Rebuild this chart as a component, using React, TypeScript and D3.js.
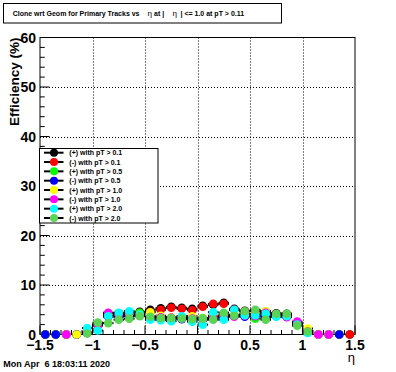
import React from "react";
import * as d3 from "d3";

// eta bin centres (bin width 0.1)
const etaBins = [
  -1.45, -1.35, -1.25, -1.15, -1.05, -0.95, -0.85, -0.75, -0.65, -0.55,
  -0.45, -0.35, -0.25, -0.15, -0.05, 0.05, 0.15, 0.25, 0.35, 0.45,
  0.55, 0.65, 0.75, 0.85, 0.95, 1.05, 1.15, 1.25, 1.35, 1.45,
];

// efficiency (%) per bin, null = no point drawn
const plusPt01 = [0, 0, 0, 0, 0.4, 2.0, 4.2, 4.3, 4.4, 4.6, 5.0, 5.3, 5.6, 5.4, 5.2, 5.8, 6.0, 6.4, 5.2, 4.8, 4.8, 4.6, 4.3, 4.2, 2.2, 0.6, 0, 0, 0, 0];
const minusPt01 = [0, 0, 0, 0, 0.3, 1.8, 3.9, 4.1, 4.2, 4.4, 4.6, 5.0, 5.4, 5.2, 4.9, 5.6, 6.2, 6.2, 5.0, 4.7, 4.7, 4.4, 4.1, 4.0, 2.1, 0.4, 0, 0, 0, 0];
const plusPt05 = [0, 0, 0, 0, 0.4, 2.1, 4.3, 3.9, 4.0, 4.4, 3.6, 3.6, 3.3, 3.5, 3.4, 3.3, 3.6, 3.9, 3.9, 4.0, 3.2, 3.4, 4.0, 4.0, 2.0, 0.4, 0, 0, 0, null];
const minusPt05 = [0, 0, 0, 0, 0.3, 1.9, 3.6, 3.6, 3.7, 3.9, 3.4, 3.3, 3.2, 3.1, 3.0, 3.0, 3.3, 3.6, 3.8, 3.6, 3.8, 3.7, 3.7, 3.6, 2.2, 0.5, 0, 0, 0, null];
const plusPt10 = [null, null, 0, 0, 0.4, 2.0, 4.1, 4.2, 4.3, 4.0, 4.5, 3.8, 3.5, 3.4, 3.7, 3.2, 3.8, 3.6, 4.0, 4.2, 4.1, 4.7, 3.9, 3.8, 2.3, 1.2, 0, 0, null, null];
const minusPt10 = [null, null, 0, null, 0.3, 1.9, 4.4, 4.1, 4.5, 3.8, 3.4, 3.5, 3.4, 3.3, 3.2, 3.1, 3.5, 3.4, 3.6, 3.8, 3.7, 4.4, 4.1, 3.5, 2.6, 0.6, 0, 0, null, null];
const plusPt20 = [null, null, null, null, 1.3, 0.8, 3.7, 4.4, 4.7, 4.0, 3.0, 2.9, 2.7, 3.7, 2.6, 2.0, 4.5, 3.0, 5.0, 3.9, 3.9, 4.2, 3.6, 3.7, 2.0, 0.3, null, null, null, null];
const minusPt20 = [null, null, null, null, 0.2, 2.4, 2.3, 3.0, 3.2, 3.7, 3.6, 3.3, 3.3, 3.2, 3.1, 3.2, 3.0, 4.4, 3.8, 4.7, 5.0, 3.0, 4.2, 4.2, 1.8, 0.6, null, null, null, null];

const seriesLabels = [
  "(+) with pT > 0.1", "(-) with pT > 0.1",
  "(+) with pT > 0.5", "(-) with pT > 0.5",
  "(+) with pT > 1.0", "(-) with pT > 1.0",
  "(+) with pT > 2.0", "(-) with pT > 2.0",
];
const seriesColors = ["#000000", "#ff0000", "#00ff00", "#0000ff", "#ffff00", "#ff00ff", "#00ffff", "#59d454"];
const seriesValues = [plusPt01, minusPt01, plusPt05, minusPt05, plusPt10, minusPt10, plusPt20, minusPt20];

const W = 396;
const H = 372;
const frame = { left: 40, right: 355, top: 37.5, bottom: 334.5 };
const FONT = "'Liberation Sans', Arial, Helvetica, sans-serif";

export default function App() {
  const x = d3.scaleLinear().domain([-1.5, 1.5]).range([frame.left, frame.right]);
  const y = d3.scaleLinear().domain([0, 60]).range([frame.bottom, frame.top]);
  const halfBin = (x(0.1) - x(0)) / 2;

  const xMajor = x.ticks(6);
  const xMinor = x.ticks(30);
  const yMajor = y.ticks(6);
  const yMinor = y.ticks(30);

  const legendTop = 148;
  const legendStep = 9.33;

  return (
    <svg
      width={W}
      height={H}
      style={{ position: "absolute", left: 0, top: 0, background: "#fff" }}
      fontFamily={FONT}
    >
      <rect x={0} y={0} width={W} height={H} fill="#fff" />

      {/* title box */}
      <rect x={3.5} y={3.5} width={278} height={19.5} fill="#fff" stroke="#000" strokeWidth={1} />
      <text y={15.5} fontSize={7} fontWeight="bold" fill="#000">
        <tspan x={12.7}>Clone wrt Geom for Primary Tracks vs</tspan>
        <tspan x={147.5} fontWeight="normal" fontSize={8}>η</tspan>
        <tspan x={154}>at |</tspan>
        <tspan x={172.5} fontWeight="normal" fontSize={8}>η</tspan>
        <tspan x={180.5}>| &lt;= 1.0 at pT &gt; 0.11</tspan>
      </text>

      {/* grid */}
      <g stroke="#000" strokeWidth={1} strokeDasharray="1,2">
        {xMajor.filter((t) => t > -1.5 && t < 1.5).map((t) => (
          <line key={"gx" + t} x1={Math.round(x(t)) + 0.5} x2={Math.round(x(t)) + 0.5} y1={frame.top} y2={frame.bottom} />
        ))}
        {yMajor.filter((t) => t > 0 && t < 60).map((t) => (
          <line key={"gy" + t} x1={frame.left} x2={frame.right} y1={Math.round(y(t)) + 0.5} y2={Math.round(y(t)) + 0.5} />
        ))}
      </g>

      {/* frame */}
      <rect
        x={frame.left}
        y={frame.top}
        width={frame.right - frame.left}
        height={frame.bottom - frame.top}
        fill="none"
        stroke="#000"
        strokeWidth={1}
      />

      {/* axis ticks */}
      <g stroke="#000" strokeWidth={1}>
        {xMinor.map((t) => {
          const major = xMajor.some((m) => Math.abs(m - t) < 1e-6);
          return (
            <line key={"tx" + t} x1={x(t)} x2={x(t)} y1={frame.bottom} y2={frame.bottom - (major ? 9 : 4.5)} />
          );
        })}
        {yMinor.map((t) => {
          const major = yMajor.some((m) => Math.abs(m - t) < 1e-6);
          return (
            <line key={"ty" + t} x1={frame.left} x2={frame.left + (major ? 9.5 : 4.75)} y1={y(t)} y2={y(t)} />
          );
        })}
      </g>

      {/* tick labels */}
      <g fontSize={14} fontWeight="bold" fill="#000">
        {xMajor.map((t) => (
          <text key={"lx" + t} x={x(t)} y={350} textAnchor="middle">
            {t < 0 ? "\u2212" + Math.abs(t) : String(t)}
          </text>
        ))}
        {yMajor.map((t) => (
          <text key={"ly" + t} x={36} y={y(t) + 5} textAnchor="end">
            {t}
          </text>
        ))}
      </g>

      {/* axis titles */}
      <text
        transform={`translate(18.5,${frame.top}) rotate(-90)`}
        textAnchor="end"
        fontSize={13.5}
        fontWeight="bold"
        fill="#000"
      >
        Efficiency (%)
      </text>
      <text x={frame.right} y={362} textAnchor="end" fontSize={13} fill="#000">
        η
      </text>

      {/* data series */}
      {seriesValues.map((vals, si) => (
        <g key={"s" + si}>
          {vals.map((v, bi) =>
            v !== null && v > 0 ? (
              <line
                key={"e" + bi}
                x1={x(etaBins[bi]) - halfBin}
                x2={x(etaBins[bi]) + halfBin}
                y1={y(v)}
                y2={y(v)}
                stroke="#000"
                strokeWidth={2}
              />
            ) : null
          )}
          {vals.map((v, bi) =>
            v !== null ? (
              <circle key={"m" + bi} cx={x(etaBins[bi])} cy={y(v)} r={4.3} fill={seriesColors[si]} />
            ) : null
          )}
        </g>
      ))}

      {/* legend */}
      <rect x={39.5} y={legendTop + 0.5} width={118.5} height={74.5} fill="#fff" stroke="#000" strokeWidth={1} />
      {seriesLabels.map((label, i) => {
        const cy = legendTop + 4.7 + i * legendStep;
        return (
          <g key={"lg" + i}>
            <line x1={44} x2={63.5} y1={cy} y2={cy} stroke="#000" strokeWidth={2} />
            <circle cx={54} cy={cy} r={4} fill={seriesColors[i]} />
            <text x={69.3} y={cy + 2.5} fontSize={7} fontWeight="bold" fill="#000">
              {label}
            </text>
          </g>
        );
      })}

      {/* date stamp */}
      <text x={3.3} y={366.5} fontSize={9} fontWeight="bold" fill="#000" style={{ whiteSpace: "pre" }}>
        {"Mon Apr  6 18:03:11 2020"}
      </text>
    </svg>
  );
}
